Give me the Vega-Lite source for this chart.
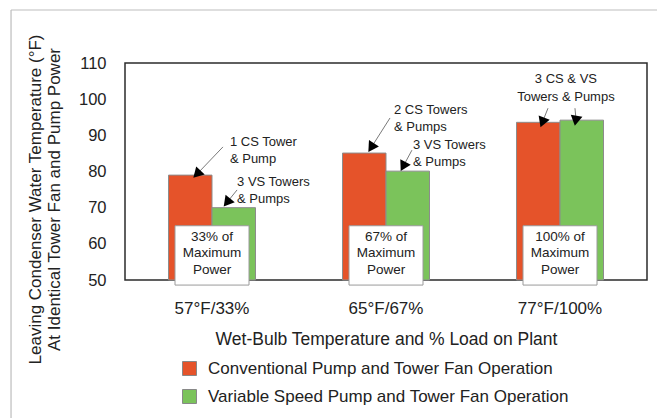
{
  "$schema": "https://vega.github.io/schema/vega-lite/v6.json",
  "width": 522,
  "height": 217,
  "autosize": {"type": "none"},
  "padding": {"left": 125, "top": 63, "right": 10, "bottom": 138},
  "background": "white",
  "config": {
    "font": "Liberation Sans",
    "view": {"stroke": "#2b2b2b", "strokeWidth": 1.5},
    "axis": {"grid": false},
    "style": {"guide-title": {"fontSize": 17, "fontWeight": "normal"}},
    "axisY": {
      "tickCount": 7,
      "titleFont": "Liberation Sans",
      "titleFontSize": 17,
      "titleFontWeight": "normal",
      "titleColor": "#222",
      "titleLineHeight": 19,
      "titleX": -89.5,
      "titleY": 136,
      "titleBaseline": "middle",
      "titleAlign": "center",
      "titleAngle": 270,
      "titleLimit": 1000,
      "labelFont": "Liberation Sans",
      "labelFontSize": 16.5,
      "labelColor": "#222",
      "labelPadding": 19,
      "labelOverlap": false,
      "ticks": false,
      "domain": false
    },
    "axisX": {
      "titleFontSize": 17.5,
      "titleFontWeight": "normal",
      "titleColor": "#222",
      "titleY": 50,
      "labelAngle": 0,
      "labelFontSize": 17,
      "labelColor": "#222",
      "labelPadding": 20,
      "ticks": false,
      "domain": false
    }
  },
  "datasets": {
    "bars": [
      {"load": "57°F/33%", "operation": "Conventional Pump and Tower Fan Operation", "temp": 79.0},
      {"load": "57°F/33%", "operation": "Variable Speed Pump and Tower Fan Operation", "temp": 70.0},
      {"load": "65°F/67%", "operation": "Conventional Pump and Tower Fan Operation", "temp": 85.1},
      {"load": "65°F/67%", "operation": "Variable Speed Pump and Tower Fan Operation", "temp": 80.1},
      {"load": "77°F/100%", "operation": "Conventional Pump and Tower Fan Operation", "temp": 93.6},
      {"load": "77°F/100%", "operation": "Variable Speed Pump and Tower Fan Operation", "temp": 94.2}
    ],
    "boxes": [
      {"load": "57°F/33%", "label": "33% of\nMaximum\nPower"},
      {"load": "65°F/67%", "label": "67% of\nMaximum\nPower"},
      {"load": "77°F/100%", "label": "100% of\nMaximum\nPower"}
    ],
    "notes": [
      {"x": 0.603, "y": 88.2, "text": "1 CS Tower\n& Pump"},
      {"x": 0.644, "y": 77.1, "text": "3 VS Towers\n& Pumps"},
      {"x": 1.546, "y": 97.0, "text": "2 CS Towers\n& Pumps"},
      {"x": 1.655, "y": 87.3, "text": "3 VS Towers\n& Pumps"}
    ],
    "topnote": [
      {"x": 2.534, "y": 105.7, "text": "3 CS & VS\nTowers & Pumps"}
    ],
    "arrows": [
      {"x": 0.563, "y": 86.8, "hx": 0.420, "hy": 79.6, "angle": 224},
      {"x": 0.644, "y": 74.9, "hx": 0.592, "hy": 71.8, "angle": 219},
      {"x": 1.523, "y": 94.8, "hx": 1.420, "hy": 87.0, "angle": 213},
      {"x": 1.649, "y": 85.9, "hx": 1.603, "hy": 81.8, "angle": 208},
      {"x": 2.431, "y": 97.5, "hx": 2.402, "hy": 94.0, "angle": 201},
      {"x": 2.586, "y": 97.5, "hx": 2.592, "hy": 94.5, "angle": 190}
    ]
  },
  "layer": [
    {
      "layer": [
        {
          "data": {"name": "bars"},
          "mark": {"type": "bar", "stroke": "#8c8c8c", "strokeWidth": 1},
          "encoding": {
            "x": {
              "field": "load",
              "type": "nominal",
              "sort": null,
              "scale": {"paddingInner": 0.5, "paddingOuter": 0.25},
              "axis": {"title": "Wet-Bulb Temperature and % Load on Plant"}
            },
            "xOffset": {"field": "operation", "type": "nominal"},
            "y": {
              "field": "temp",
              "type": "quantitative",
              "scale": {"domain": [50, 110], "nice": false, "zero": false},
              "axis": {"values": [50, 60, 70, 80, 90, 100, 110], "title": ["Leaving Condenser Water Temperature (°F)", "At Identical Tower Fan and Pump Power"], "titleFontSize": 17, "titleY": 136, "titleX": -89.5, "titleLineHeight": 19}
            },
            "y2": {"datum": 50},
            "color": {
              "field": "operation",
              "type": "nominal",
              "scale": {"range": ["#E5532A", "#7BC35B"]},
              "legend": {
                "title": null,
                "orient": "none",
                "legendX": 56,
                "legendY": 297,
                "symbolType": "square",
                "symbolSize": 196,
                "symbolStrokeColor": "#888",
                "symbolStrokeWidth": 1,
                "symbolOpacity": 1,
                "labelFontSize": 17,
                "labelColor": "#222",
                "labelOffset": 10,
                "labelLimit": 500,
                "rowPadding": 9
              }
            }
          }
        },
        {
          "data": {"name": "boxes"},
          "mark": {"type": "bar", "width": 74, "fill": "white", "stroke": "#9a9a9a", "strokeWidth": 1},
          "encoding": {
            "x": {"field": "load", "type": "nominal", "sort": null},
            "y": {"datum": 65, "axis": {"values": [50, 60, 70, 80, 90, 100, 110], "title": ["Leaving Condenser Water Temperature (°F)", "At Identical Tower Fan and Pump Power"], "titleFontSize": 17, "titleY": 136, "titleX": -89.5, "titleLineHeight": 19}},
            "y2": {"datum": 48.6}
          }
        },
        {
          "data": {"name": "boxes"},
          "mark": {"type": "text", "lineBreak": "\n", "fontSize": 13.5, "lineHeight": 16.5, "baseline": "middle", "align": "center", "color": "#222"},
          "encoding": {
            "x": {"field": "load", "type": "nominal", "sort": null},
            "y": {"datum": 61.9, "axis": {"values": [50, 60, 70, 80, 90, 100, 110], "title": ["Leaving Condenser Water Temperature (°F)", "At Identical Tower Fan and Pump Power"], "titleFontSize": 17, "titleY": 136, "titleX": -89.5, "titleLineHeight": 19}},
            "text": {"field": "label"}
          }
        }
      ]
    },
    {
      "layer": [
        {
          "data": {"values": [{"edge": "top"}]},
          "mark": {"type": "rule", "color": "#bdbdbd", "strokeWidth": 1.2},
          "encoding": {
            "x": {"datum": -0.655, "type": "quantitative", "scale": {"domain": [0, 3], "nice": false, "zero": false}, "axis": null},
            "x2": {"datum": 3.1},
            "y": {"datum": 124.65, "axis": {"values": [50, 60, 70, 80, 90, 100, 110], "title": ["Leaving Condenser Water Temperature (°F)", "At Identical Tower Fan and Pump Power"], "titleFontSize": 17, "titleY": 136, "titleX": -89.5, "titleLineHeight": 19}}
          }
        },
        {
          "data": {"values": [{"edge": "left"}]},
          "mark": {"type": "rule", "color": "#bdbdbd", "strokeWidth": 1.2},
          "encoding": {
            "x": {"datum": -0.655, "type": "quantitative", "scale": {"domain": [0, 3], "nice": false, "zero": false}, "axis": null},
            "y": {"datum": 124.65, "axis": {"values": [50, 60, 70, 80, 90, 100, 110], "title": ["Leaving Condenser Water Temperature (°F)", "At Identical Tower Fan and Pump Power"], "titleFontSize": 17, "titleY": 136, "titleX": -89.5, "titleLineHeight": 19}},
            "y2": {"datum": 11.0}
          }
        },
        {
          "data": {"name": "arrows"},
          "mark": {"type": "rule", "color": "#7a7a7a", "strokeWidth": 1},
          "encoding": {
            "x": {"field": "x", "type": "quantitative", "scale": {"domain": [0, 3], "nice": false, "zero": false}, "axis": null},
            "x2": {"field": "hx"},
            "y": {"field": "y", "type": "quantitative", "axis": {"values": [50, 60, 70, 80, 90, 100, 110], "title": ["Leaving Condenser Water Temperature (°F)", "At Identical Tower Fan and Pump Power"], "titleFontSize": 17, "titleY": 136, "titleX": -89.5, "titleLineHeight": 19}},
            "y2": {"field": "hy"}
          }
        },
        {
          "data": {"name": "arrows"},
          "mark": {"type": "point", "shape": "triangle", "filled": true, "color": "black", "size": 140, "opacity": 1},
          "encoding": {
            "x": {"field": "hx", "type": "quantitative", "scale": {"domain": [0, 3], "nice": false, "zero": false}, "axis": null},
            "y": {"field": "hy", "type": "quantitative", "axis": {"values": [50, 60, 70, 80, 90, 100, 110], "title": ["Leaving Condenser Water Temperature (°F)", "At Identical Tower Fan and Pump Power"], "titleFontSize": 17, "titleY": 136, "titleX": -89.5, "titleLineHeight": 19}},
            "angle": {"field": "angle", "type": "quantitative", "scale": null}
          }
        },
        {
          "data": {"name": "notes"},
          "mark": {"type": "text", "lineBreak": "\n", "fontSize": 13, "lineHeight": 17, "align": "left", "baseline": "middle", "color": "#222"},
          "encoding": {
            "x": {"field": "x", "type": "quantitative", "scale": {"domain": [0, 3], "nice": false, "zero": false}, "axis": null},
            "y": {"field": "y", "type": "quantitative", "axis": {"values": [50, 60, 70, 80, 90, 100, 110], "title": ["Leaving Condenser Water Temperature (°F)", "At Identical Tower Fan and Pump Power"], "titleFontSize": 17, "titleY": 136, "titleX": -89.5, "titleLineHeight": 19}},
            "text": {"field": "text"}
          }
        },
        {
          "data": {"name": "topnote"},
          "mark": {"type": "text", "lineBreak": "\n", "fontSize": 13, "lineHeight": 18, "align": "center", "baseline": "middle", "color": "#222"},
          "encoding": {
            "x": {"field": "x", "type": "quantitative", "scale": {"domain": [0, 3], "nice": false, "zero": false}, "axis": null},
            "y": {"field": "y", "type": "quantitative", "axis": {"values": [50, 60, 70, 80, 90, 100, 110], "title": ["Leaving Condenser Water Temperature (°F)", "At Identical Tower Fan and Pump Power"], "titleFontSize": 17, "titleY": 136, "titleX": -89.5, "titleLineHeight": 19}},
            "text": {"field": "text"}
          }
        }
      ]
    }
  ],
  "resolve": {"scale": {"x": "independent"}, "axis": {"x": "independent"}}
}
